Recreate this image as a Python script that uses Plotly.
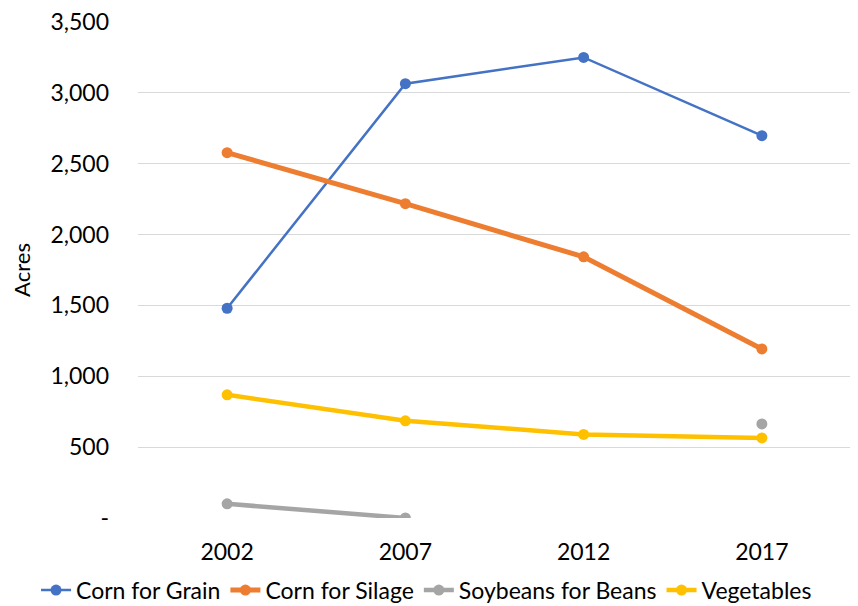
import plotly.graph_objects as go

# census years and harvested acres per crop
years = ['2002', '2007', '2012', '2017']
corn_grain = [1480, 3065, 3250, 2698]
corn_silage = [2578, 2218, 1843, 1193]
soybeans = [100, 0, None, 664]
vegetables = [869, 686, 590, 565]

y_ticks = [0, 500, 1000, 1500, 2000, 2500, 3000, 3500]
y_labels = ['-', '500', '1,000', '1,500', '2,000', '2,500', '3,000', '3,500']

font = 'Lato'

fig = go.Figure()

series = [
    ('Corn for Grain', corn_grain, '#4472C4', 2.5),
    ('Corn for Silage', corn_silage, '#ED7D31', 5),
    ('Soybeans for Beans', soybeans, '#A5A5A5', 4.5),
    ('Vegetables', vegetables, '#FFC000', 4.5),
]

for name, vals, col, w in series:
    fig.add_trace(go.Scatter(x=years, y=vals, name=name, mode='lines+markers',
                             line=dict(color=col, width=w),
                             marker=dict(color=col, size=11),
                             connectgaps=False))

# page body adds 8px, so the figure is a little smaller than the window
fig.update_layout(
    width=850, height=598,
    margin=dict(l=130, r=7, t=14, b=88, autoexpand=False),
    plot_bgcolor='white', paper_bgcolor='white',
    font=dict(family=font, size=23, color='#000000'),
    showlegend=True,
    legend=dict(orientation='h', x=-0.143, xanchor='left', y=-0.102, yanchor='top',
                font=dict(size=23), itemwidth=30, tracegroupgap=0),
)

fig.update_xaxes(type='category', range=[-0.5, 3.5], showgrid=False,
                 showline=False, ticks='', automargin=False,
                 ticklabelstandoff=18, tickfont=dict(size=23))
fig.update_yaxes(range=[0, 3500], tickvals=y_ticks, ticktext=y_labels,
                 gridcolor='#D9D9D9', gridwidth=1, zeroline=False, showline=False,
                 ticks='', ticklabelstandoff=28, automargin=False,
                 ticklabeloverflow='allow', tickfont=dict(size=23),
                 title=dict(text='Acres', font=dict(size=22), standoff=15))

fig.write_html('out.html')
